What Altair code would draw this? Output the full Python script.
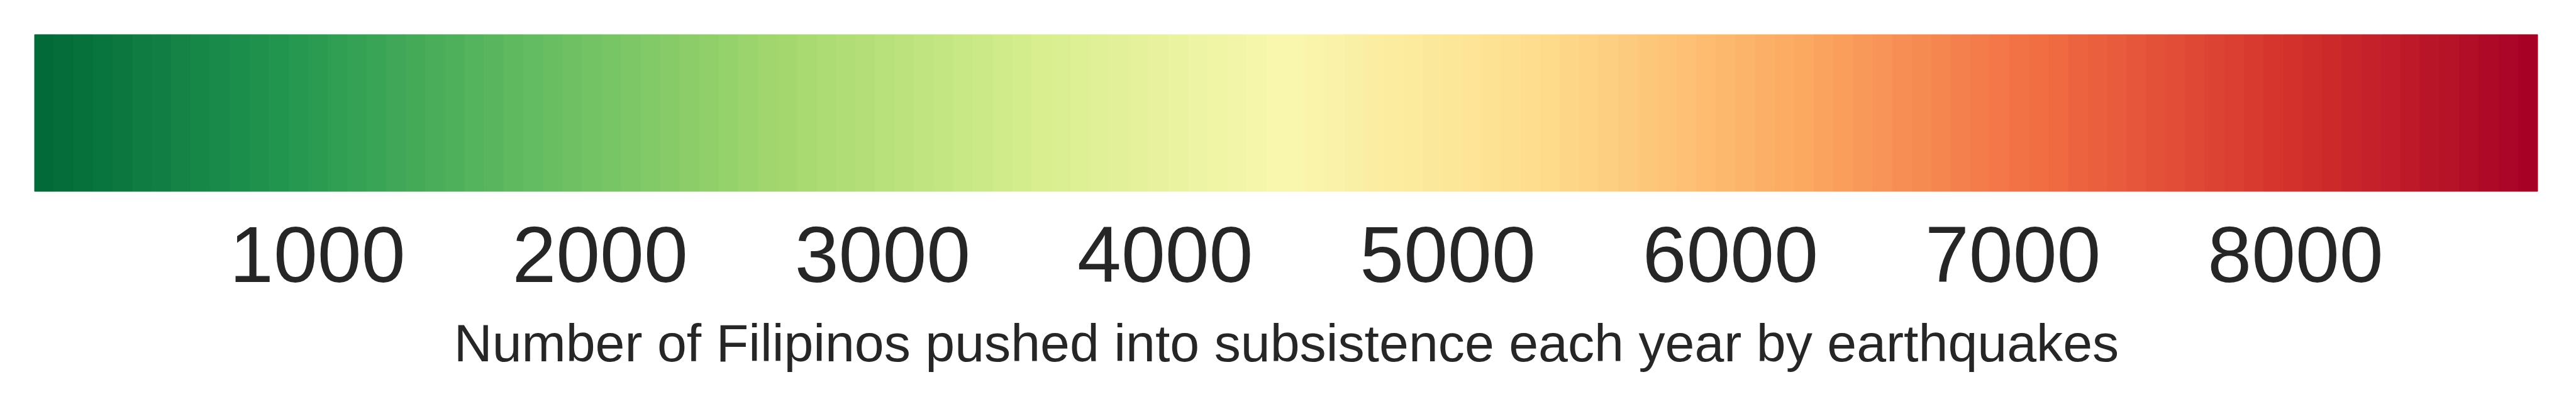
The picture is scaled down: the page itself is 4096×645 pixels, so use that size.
import altair as alt
import numpy as np
import pandas as pd

# Colorbar range and labels
domain_min = 0
domain_max = 8858
tick_values = [1000, 2000, 3000, 4000, 5000, 6000, 7000, 8000]
axis_title = "Number of Filipinos pushed into subsistence each year by earthquakes"
n_steps = 128  # number of colour bands in the bar

edges = np.linspace(domain_min, domain_max, n_steps + 1)
df = pd.DataFrame({
    "x0": edges[:-1],
    "x1": edges[1:],
    "v": (edges[:-1] + edges[1:]) / 2,
})

W = 3980
H = 249
font = "Liberation Sans"
txt = "#262626"

cscale = alt.Scale(scheme="redyellowgreen", reverse=True,
                   domain=[domain_min, domain_max])

chart = alt.Chart(df).mark_rect(strokeWidth=1).encode(
    x=alt.X("x0:Q",
            scale=alt.Scale(domain=[domain_min, domain_max], nice=False, zero=False),
            axis=alt.Axis(values=tick_values, ticks=False, tickSize=0, domain=False,
                          grid=False, format="d", labelFlush=False, labelLimit=0,
                          labelOverlap=False,
                          labelFont=font, labelFontSize=125.6, labelColor=txt,
                          labelPadding=44,
                          title=axis_title, titleFont=font, titleFontSize=84.3,
                          titleFontWeight="normal", titleColor=txt, titleLimit=0,
                          titleBaseline="alphabetic", titleY=269)),
    x2="x1:Q",
    y=alt.value(0),
    y2=alt.value(H),
    color=alt.Color("v:Q", scale=cscale, legend=None),
    stroke=alt.Stroke("v:Q", scale=cscale, legend=None),
).properties(
    width=W,
    height=H,
    autosize=alt.AutoSizeParams(type="none"),
    padding={"left": 47, "top": 47, "right": 50, "bottom": 320},
    background="white",
).configure_view(stroke=None)

chart.save("out.html", embed_options={"renderer": "svg", "actions": False})
